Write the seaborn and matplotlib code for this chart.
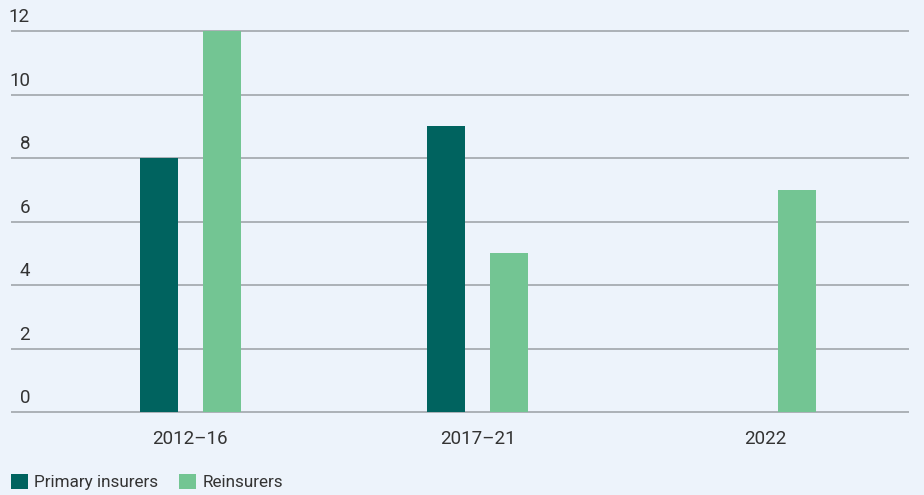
import pandas as pd
import matplotlib.pyplot as plt
import seaborn as sns
from matplotlib.patches import Patch

# Chart data
periods = ['2012–16', '2017–21', '2022']
primary_insurers = [8, 9, 0]
reinsurers = [12, 5, 7]
series_names = ['Primary insurers', 'Reinsurers']
y_ticks = [0, 2, 4, 6, 8, 10, 12]

bg = '#EDF3FB'
colors = ['#00635F', '#73C593']
text_color = '#333333'

df = pd.DataFrame({
    'period': periods * 2,
    'value': primary_insurers + reinsurers,
    'series': [series_names[0]] * 3 + [series_names[1]] * 3,
})

sns.set_style('white')
plt.rcParams['font.family'] = ['Roboto', 'DejaVu Sans']

fig = plt.figure(figsize=(9.24, 4.95), dpi=100, facecolor=bg)
ax = fig.add_axes([11 / 924, 0.1612, 898 / 924, 0.789])
ax.set_facecolor(bg)

sns.barplot(data=df, x='period', y='value', hue='series', palette=colors,
            saturation=1, width=0.438, gap=0.397, linewidth=0,
            ax=ax, zorder=3, legend=False)

ax.set_ylim(-0.1, 12.2)
ax.set_xlim(-0.624, 2.499)
ax.set_yticks(y_ticks)
ax.yaxis.grid(True, color='#A7ABB1', linewidth=1.3, zorder=0)
ax.set_axisbelow(True)
ax.tick_params(axis='y', length=0, labelleft=False)
ax.tick_params(axis='x', length=0, pad=11, labelsize=13.5, labelcolor=text_color)
for s in ax.spines.values():
    s.set_visible(False)
ax.set_xlabel('')
ax.set_ylabel('')

# y labels sit above the gridlines, right aligned near the left edge
for t in y_ticks:
    ax.annotate(str(t), xy=(0, t), xycoords=('axes fraction', 'data'),
                xytext=(13.7, 3.5), textcoords='offset points',
                ha='right', va='bottom', fontsize=13.5, color=text_color)

handles = [Patch(facecolor=c, edgecolor='none') for c in colors]
fig.legend(handles, series_names, loc='lower left',
           bbox_to_anchor=(11 / 924, 5 / 495), borderaxespad=0, borderpad=0,
           ncol=2, frameon=False, fontsize=12.3, handlelength=0.97,
           handleheight=0.97, handletextpad=0.4, columnspacing=1.2,
           labelcolor=text_color)

fig.savefig('out.png', dpi=100, facecolor=bg)
